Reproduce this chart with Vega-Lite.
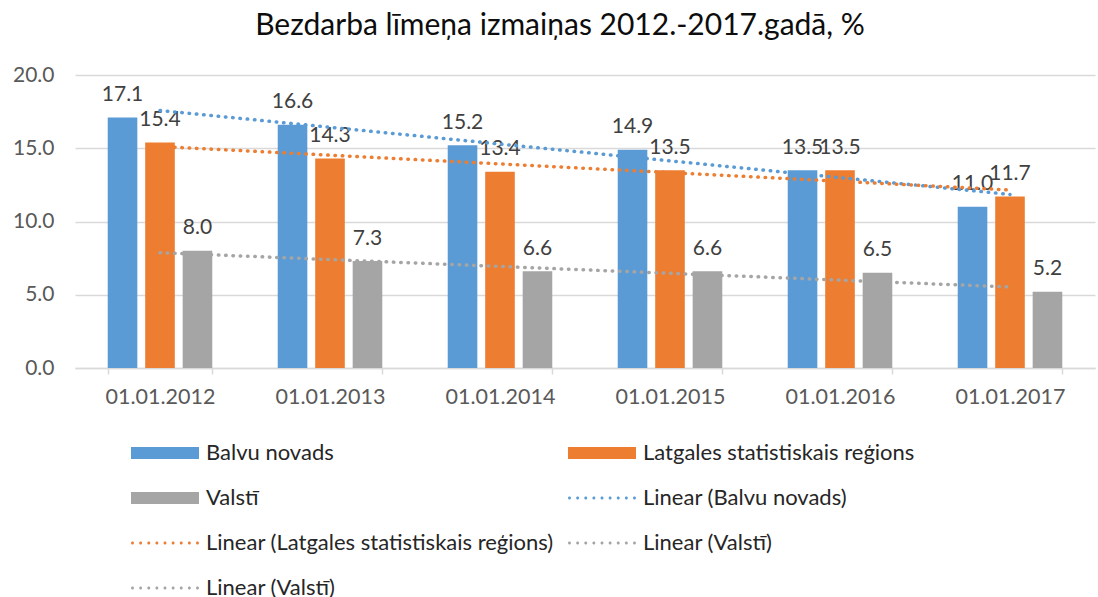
{
  "$schema": "https://vega.github.io/schema/vega-lite/v6.json",
  "width": 1020,
  "height": 293,
  "autosize": {"type": "none"},
  "padding": {"left": 75, "top": 75, "right": 3, "bottom": 229},
  "background": "white",
  "title": {
    "text": "Bezdarba līmeņa izmaiņas  2012.-2017.gadā, %",
    "font": "Lato",
    "fontSize": 30,
    "fontWeight": "normal",
    "color": "#0d0d0d",
    "anchor": "middle",
    "dx": -25,
    "offset": 23
  },
  "datasets": {
    "bars": [
      {"date": "01.01.2012", "series": "Balvu novads", "value": 17.1},
      {"date": "01.01.2012", "series": "Latgales statistiskais reģions", "value": 15.4},
      {"date": "01.01.2012", "series": "Valstī", "value": 8.0},
      {"date": "01.01.2013", "series": "Balvu novads", "value": 16.6},
      {"date": "01.01.2013", "series": "Latgales statistiskais reģions", "value": 14.3},
      {"date": "01.01.2013", "series": "Valstī", "value": 7.3},
      {"date": "01.01.2014", "series": "Balvu novads", "value": 15.2},
      {"date": "01.01.2014", "series": "Latgales statistiskais reģions", "value": 13.4},
      {"date": "01.01.2014", "series": "Valstī", "value": 6.6},
      {"date": "01.01.2015", "series": "Balvu novads", "value": 14.9},
      {"date": "01.01.2015", "series": "Latgales statistiskais reģions", "value": 13.5},
      {"date": "01.01.2015", "series": "Valstī", "value": 6.6},
      {"date": "01.01.2016", "series": "Balvu novads", "value": 13.5},
      {"date": "01.01.2016", "series": "Latgales statistiskais reģions", "value": 13.5},
      {"date": "01.01.2016", "series": "Valstī", "value": 6.5},
      {"date": "01.01.2017", "series": "Balvu novads", "value": 11.0},
      {"date": "01.01.2017", "series": "Latgales statistiskais reģions", "value": 11.7},
      {"date": "01.01.2017", "series": "Valstī", "value": 5.2}
    ],
    "trends": [
      {"date": "01.01.2012", "series": "Linear (Balvu novads)", "value": 17.58},
      {"date": "01.01.2017", "series": "Linear (Balvu novads)", "value": 11.85},
      {"date": "01.01.2012", "series": "Linear (Latgales statistiskais reģions)", "value": 15.12},
      {"date": "01.01.2017", "series": "Linear (Latgales statistiskais reģions)", "value": 12.15},
      {"date": "01.01.2012", "series": "Linear (Valstī)", "value": 7.87},
      {"date": "01.01.2017", "series": "Linear (Valstī)", "value": 5.53}
    ],
    "legend": [
      {"series": "Balvu novads"},
      {"series": "Latgales statistiskais reģions"},
      {"series": "Valstī"},
      {"series": "Linear (Balvu novads)"},
      {"series": "Linear (Latgales statistiskais reģions)"},
      {"series": "Linear (Valstī)"},
      {"series": "Linear (Valstī) 2"}
    ]
  },
  "encoding": {
    "x": {
      "field": "date",
      "type": "nominal",
      "sort": null,
      "scale": {
        "domain": ["01.01.2012", "01.01.2013", "01.01.2014", "01.01.2015", "01.01.2016", "01.01.2017"],
        "paddingInner": 0.385,
        "paddingOuter": 0.1925
      },
      "axis": {
        "title": null,
        "labelAngle": 0,
        "labelFont": "Lato",
        "labelFontSize": 21.5,
        "labelColor": "#595959",
        "labelPadding": 12,
        "domainColor": "#D9D9D9",
        "domainWidth": 1.5,
        "tickColor": "#D9D9D9",
        "tickWidth": 1.5,
        "tickSize": 6,
        "tickBand": "extent",
        "grid": false
      }
    },
    "y": {
      "field": "value",
      "type": "quantitative",
      "scale": {"domain": [0, 20], "nice": false},
      "axis": {
        "title": null,
        "values": [0, 5, 10, 15, 20],
        "format": ".1f",
        "labelFont": "Lato",
        "labelFontSize": 21,
        "labelColor": "#595959",
        "labelPadding": 21,
        "domain": false,
        "ticks": false,
        "grid": true,
        "gridColor": "#D9D9D9",
        "gridWidth": 1.5
      }
    }
  },
  "layer": [
    {
      "data": {"name": "legend"},
      "mark": {"type": "point", "filled": true, "opacity": 1},
      "encoding": {
        "color": {
          "field": "series",
          "type": "nominal",
          "scale": {
            "domain": ["Balvu novads", "Latgales statistiskais reģions", "Valstī", "Linear (Balvu novads)", "Linear (Latgales statistiskais reģions)", "Linear (Valstī)", "Linear (Valstī) 2"],
            "range": ["#5B9BD5", "#ED7D31", "#A5A5A5", "#5B9BD5", "#ED7D31", "#A5A5A5", "#A5A5A5"]
          },
          "legend": {
            "orient": "none",
            "direction": "horizontal",
            "legendX": 79,
            "legendY": 367,
            "columns": 2,
            "title": null,
            "padding": 0,
            "symbolSize": 144,
            "symbolStrokeWidth": 0,
            "symbolOpacity": 1,
            "labelOffset": 30,
            "labelFont": "Lato",
            "labelFontSize": 22,
            "labelColor": "#262626",
            "labelLimit": 600,
            "rowPadding": 23,
            "columnPadding": 13,
            "labelExpr": "datum.label == 'Linear (Valstī) 2' ? 'Linear (Valstī)' : datum.label"
          }
        },
        "shape": {
          "field": "series",
          "type": "nominal",
          "scale": {
            "domain": ["Balvu novads", "Latgales statistiskais reģions", "Valstī", "Linear (Balvu novads)", "Linear (Latgales statistiskais reģions)", "Linear (Valstī)", "Linear (Valstī) 2"],
            "range": [
              "M-5.667,-1H5.667V1H-5.667Z",
              "M-5.667,-1H5.667V1H-5.667Z",
              "M-5.667,-1H5.667V1H-5.667Z",
              "M-5.667,0a0.25,0.25 0 1,0 0.5,0a0.25,0.25 0 1,0 -0.5,0M-4.313,0a0.25,0.25 0 1,0 0.5,0a0.25,0.25 0 1,0 -0.5,0M-2.959,0a0.25,0.25 0 1,0 0.5,0a0.25,0.25 0 1,0 -0.5,0M-1.605,0a0.25,0.25 0 1,0 0.5,0a0.25,0.25 0 1,0 -0.5,0M-0.25,0a0.25,0.25 0 1,0 0.5,0a0.25,0.25 0 1,0 -0.5,0M1.104,0a0.25,0.25 0 1,0 0.5,0a0.25,0.25 0 1,0 -0.5,0M2.458,0a0.25,0.25 0 1,0 0.5,0a0.25,0.25 0 1,0 -0.5,0M3.812,0a0.25,0.25 0 1,0 0.5,0a0.25,0.25 0 1,0 -0.5,0M5.166,0a0.25,0.25 0 1,0 0.5,0a0.25,0.25 0 1,0 -0.5,0",
              "M-5.667,0a0.25,0.25 0 1,0 0.5,0a0.25,0.25 0 1,0 -0.5,0M-4.313,0a0.25,0.25 0 1,0 0.5,0a0.25,0.25 0 1,0 -0.5,0M-2.959,0a0.25,0.25 0 1,0 0.5,0a0.25,0.25 0 1,0 -0.5,0M-1.605,0a0.25,0.25 0 1,0 0.5,0a0.25,0.25 0 1,0 -0.5,0M-0.25,0a0.25,0.25 0 1,0 0.5,0a0.25,0.25 0 1,0 -0.5,0M1.104,0a0.25,0.25 0 1,0 0.5,0a0.25,0.25 0 1,0 -0.5,0M2.458,0a0.25,0.25 0 1,0 0.5,0a0.25,0.25 0 1,0 -0.5,0M3.812,0a0.25,0.25 0 1,0 0.5,0a0.25,0.25 0 1,0 -0.5,0M5.166,0a0.25,0.25 0 1,0 0.5,0a0.25,0.25 0 1,0 -0.5,0",
              "M-5.667,0a0.25,0.25 0 1,0 0.5,0a0.25,0.25 0 1,0 -0.5,0M-4.313,0a0.25,0.25 0 1,0 0.5,0a0.25,0.25 0 1,0 -0.5,0M-2.959,0a0.25,0.25 0 1,0 0.5,0a0.25,0.25 0 1,0 -0.5,0M-1.605,0a0.25,0.25 0 1,0 0.5,0a0.25,0.25 0 1,0 -0.5,0M-0.25,0a0.25,0.25 0 1,0 0.5,0a0.25,0.25 0 1,0 -0.5,0M1.104,0a0.25,0.25 0 1,0 0.5,0a0.25,0.25 0 1,0 -0.5,0M2.458,0a0.25,0.25 0 1,0 0.5,0a0.25,0.25 0 1,0 -0.5,0M3.812,0a0.25,0.25 0 1,0 0.5,0a0.25,0.25 0 1,0 -0.5,0M5.166,0a0.25,0.25 0 1,0 0.5,0a0.25,0.25 0 1,0 -0.5,0",
              "M-5.667,0a0.25,0.25 0 1,0 0.5,0a0.25,0.25 0 1,0 -0.5,0M-4.313,0a0.25,0.25 0 1,0 0.5,0a0.25,0.25 0 1,0 -0.5,0M-2.959,0a0.25,0.25 0 1,0 0.5,0a0.25,0.25 0 1,0 -0.5,0M-1.605,0a0.25,0.25 0 1,0 0.5,0a0.25,0.25 0 1,0 -0.5,0M-0.25,0a0.25,0.25 0 1,0 0.5,0a0.25,0.25 0 1,0 -0.5,0M1.104,0a0.25,0.25 0 1,0 0.5,0a0.25,0.25 0 1,0 -0.5,0M2.458,0a0.25,0.25 0 1,0 0.5,0a0.25,0.25 0 1,0 -0.5,0M3.812,0a0.25,0.25 0 1,0 0.5,0a0.25,0.25 0 1,0 -0.5,0M5.166,0a0.25,0.25 0 1,0 0.5,0a0.25,0.25 0 1,0 -0.5,0"
            ]
          },
          "legend": {
            "orient": "none",
            "direction": "horizontal",
            "legendX": 79,
            "legendY": 367,
            "columns": 2,
            "title": null,
            "padding": 0,
            "symbolSize": 144,
            "symbolStrokeWidth": 0,
            "symbolOpacity": 1,
            "labelOffset": 30,
            "labelFont": "Lato",
            "labelFontSize": 22,
            "labelColor": "#262626",
            "labelLimit": 600,
            "rowPadding": 23,
            "columnPadding": 13,
            "labelExpr": "datum.label == 'Linear (Valstī) 2' ? 'Linear (Valstī)' : datum.label"
          }
        }
      }
    },
    {
      "data": {"name": "bars"},
      "mark": {"type": "bar"},
      "encoding": {
        "xOffset": {
          "field": "series",
          "type": "nominal",
          "scale": {
            "domain": ["Balvu novads", "Latgales statistiskais reģions", "Valstī"],
            "paddingInner": 0.21,
            "paddingOuter": 0
          }
        },
        "color": {"field": "series", "type": "nominal"}
      }
    },
    {
      "data": {"name": "bars"},
      "mark": {"type": "text", "font": "Lato", "fontSize": 21, "color": "#404040", "baseline": "alphabetic", "dy": -16.5},
      "encoding": {
        "xOffset": {"field": "series", "type": "nominal"},
        "text": {"field": "value", "type": "quantitative", "format": ".1f"}
      }
    },
    {
      "data": {"name": "trends"},
      "mark": {"type": "line", "strokeWidth": 3.5, "strokeDash": [0.5, 6.8], "strokeCap": "round"},
      "encoding": {
        "color": {"field": "series", "type": "nominal"},
        "detail": {"field": "series", "type": "nominal"}
      }
    }
  ],
  "resolve": {"scale": {"color": "shared"}},
  "config": {
    "view": {"stroke": null}
  }
}
